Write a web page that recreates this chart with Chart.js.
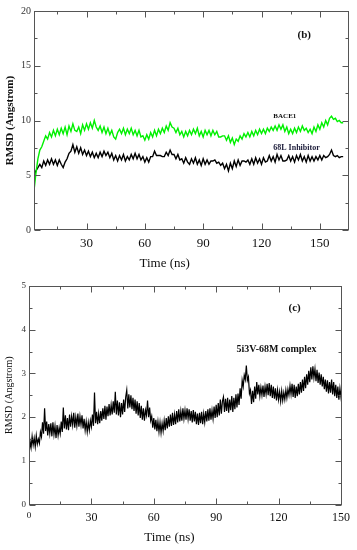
<!DOCTYPE html>
<html><head><meta charset="utf-8">
<script src="https://cdn.jsdelivr.net/npm/chart.js@4.4.1/dist/chart.umd.min.js"></script>
<style>
html,body{margin:0;padding:0;background:#fff;width:357px;height:550px;overflow:hidden}
.box{position:absolute;left:0;width:357px}
#wb{top:0;height:272px}
#wc{top:275px;height:275px}
</style></head><body>
<div class="box" id="wb"><canvas id="cb" width="357" height="272"></canvas></div>
<div class="box" id="wc"><canvas id="cc" width="357" height="275"></canvas></div>
<script>
// ---------- DATA ----------
const timeStartB = 3, timeStepB = 1;   // ns
const bace1 = [
 3.6,5.2,6.5,7.3,7.6,8.1,8.6,8.3,8.9,8.5,
 9.1,8.6,9.2,8.7,9.3,8.8,9.4,8.7,9.5,9.0,
 9.7,9.1,9.0,9.4,8.8,9.6,9.1,9.7,9.2,9.8,
 9.3,10.0,9.4,9.1,9.5,8.9,9.4,8.8,9.3,8.7,
 9.1,8.5,8.3,8.9,9.2,8.8,9.3,8.7,9.2,8.8,
 9.3,8.7,9.1,8.6,9.1,8.5,8.6,8.2,8.7,8.3,
 8.9,8.5,9.1,8.6,9.2,8.8,9.3,8.9,9.5,9.1,
 9.8,9.4,9.3,8.9,9.3,8.7,9.0,8.5,9.0,8.6,
 9.1,8.7,9.2,8.8,9.3,8.6,9.0,8.5,9.1,8.7,
 9.1,8.6,9.1,8.7,9.0,8.5,8.5,8.6,8.6,8.2,
 8.6,8.0,8.4,7.8,8.3,8.1,8.6,8.3,8.8,8.5,
 8.9,8.5,9.0,8.6,9.1,8.7,9.2,8.8,9.2,8.8,
 9.3,9.0,9.4,9.1,9.5,9.1,9.6,9.2,9.6,9.0,
 9.4,8.8,9.2,8.8,9.3,8.9,9.4,9.0,9.5,9.1,
 9.3,8.9,9.2,8.8,9.4,9.0,9.6,9.2,9.8,9.4,
 10.0,9.6,10.2,10.4,10.1,10.2,9.9,10.0,9.8,9.8
];
const inhibitor68L = [
 4.9,5.4,5.7,6.0,5.7,6.3,5.9,6.4,6.0,6.5,
 6.0,6.4,5.9,6.4,6.0,5.7,6.2,6.5,7.0,7.2,
 7.8,7.1,7.6,7.0,7.5,6.9,7.3,6.8,7.2,6.7,
 7.1,6.6,7.0,6.6,7.1,6.7,7.2,6.8,7.1,6.6,
 7.0,6.4,6.8,6.3,6.8,6.4,6.9,6.3,6.7,6.4,
 6.9,6.5,7.0,6.5,6.9,6.4,6.7,6.2,6.6,6.2,
 6.7,6.7,7.2,6.8,6.8,6.8,6.7,6.7,7.1,6.8,
 7.3,6.9,6.9,6.5,6.9,6.4,6.5,6.1,6.6,6.2,
 6.0,6.5,6.1,6.6,6.0,6.4,5.9,6.5,6.0,6.4,
 6.0,6.3,6.3,6.4,6.1,6.2,5.9,6.1,5.6,6.0,
 5.4,6.1,5.6,6.3,5.8,6.4,5.9,6.3,6.3,6.2,
 6.4,6.0,6.5,6.0,6.6,6.1,6.5,6.0,6.6,6.2,
 6.3,6.8,6.3,6.7,6.2,6.9,6.4,6.8,6.3,6.3,
 6.4,6.8,6.3,6.7,6.2,6.8,6.4,6.9,6.3,6.7,
 6.2,6.8,6.3,6.7,6.3,6.7,6.4,6.8,6.4,6.8,
 6.6,6.7,6.9,7.3,6.8,6.7,6.8,6.6,6.7,6.7
];
const timeStartC = 0, timeStepC = 0.5; // ns
const complex5i3V = [
 1.10,1.45,1.30,1.56,1.36,1.52,1.32,1.58,1.38,1.50,
 1.40,1.66,1.55,1.88,1.62,2.20,1.68,1.90,1.58,1.84,
 1.62,1.86,1.56,1.88,1.60,1.80,1.52,1.82,1.58,1.76,
 1.62,1.90,1.66,2.22,1.74,2.04,1.72,1.98,1.70,2.06,
 1.78,2.02,1.82,2.10,1.76,2.00,1.80,2.08,1.78,2.02,
 1.82,2.04,1.74,1.96,1.70,1.90,1.66,1.88,1.70,1.92,
 1.78,2.06,1.80,2.56,1.86,2.12,1.84,2.08,1.86,2.14,
 1.92,2.20,1.96,2.26,1.94,2.24,2.02,2.30,2.04,2.28,
 2.06,2.36,2.10,2.58,2.06,2.38,2.04,2.34,2.00,2.32,
 2.06,2.40,2.12,2.46,2.62,2.20,2.52,2.22,2.50,2.18,
 2.44,2.14,2.40,2.08,2.36,2.04,2.32,1.98,2.26,1.94,
 2.20,1.92,2.16,2.04,2.38,2.00,2.22,1.92,2.02,1.76,
 1.98,1.72,1.94,1.68,1.90,1.66,1.88,1.64,1.86,1.68,
 1.92,1.70,1.98,1.74,2.02,1.78,2.06,1.80,2.10,1.82,
 2.06,1.84,2.14,1.88,2.18,1.90,2.14,1.92,2.20,1.96,
 2.16,1.94,2.20,1.96,2.18,1.92,2.14,1.88,2.16,1.90,
 2.12,1.84,2.08,1.82,2.10,1.86,2.12,1.84,2.08,1.88,
 2.14,1.90,2.18,1.92,2.20,1.94,2.16,1.96,2.24,1.98,
 2.28,2.00,2.32,2.04,2.40,2.08,2.36,2.46,2.12,2.42,
 2.14,2.44,2.10,2.40,2.16,2.48,2.12,2.44,2.18,2.52,
 2.22,2.54,2.28,2.66,2.42,2.84,2.70,2.96,2.86,3.18,
 2.84,2.92,2.54,2.62,2.30,2.60,2.34,2.70,2.42,2.80,
 2.52,2.74,2.48,2.68,2.50,2.72,2.46,2.70,2.52,2.76,
 2.50,2.78,2.48,2.74,2.44,2.70,2.42,2.66,2.38,2.62,
 2.40,2.58,2.36,2.60,2.38,2.56,2.40,2.62,2.44,2.64,
 2.50,2.72,2.52,2.76,2.46,2.74,2.44,2.70,2.48,2.76,
 2.52,2.80,2.56,2.86,2.60,2.92,2.66,2.98,2.74,3.06,
 2.80,3.14,2.86,3.16,2.90,3.10,2.82,3.08,2.78,3.02,
 2.74,2.98,2.70,2.92,2.64,2.86,2.58,2.84,2.54,2.80,
 2.56,2.86,2.52,2.80,2.48,2.74,2.44,2.70,2.40,2.66,
 2.46,2.70,2.52
];
const xTicksB = [30, 60, 90, 120, 150];
const xMinorB = [15, 45, 75, 105, 135];
const yTicksB = [0, 5, 10, 15, 20];
const yMinorB = [2.5, 7.5, 12.5, 17.5];
const xTicksC = [0, 30, 60, 90, 120, 150];
const xMinorC = [15, 45, 75, 105, 135];
const yTicksC = [0, 1, 2, 3, 4, 5];
const yMinorC = [0.5, 1.5, 2.5, 3.5, 4.5];

// ---------- HELPERS ----------
const SERIF = '"Liberation Serif", "Times New Roman", serif';
function toPoints(vals, t0, dt) { return vals.map((v, i) => ({ x: t0 + i * dt, y: v })); }

function framePlugin(cfg) {
  return {
    id: 'frame',
    afterDraw(chart) {
      const { ctx, chartArea: a, scales: { x, y } } = chart;
      ctx.save();
      ctx.strokeStyle = '#555';
      ctx.lineWidth = 1;
      const L = Math.round(a.left) + 0.5, R = Math.round(a.right) - 0.5;
      const T = Math.round(a.top) + 0.5, B = Math.round(a.bottom) - 0.5;
      ctx.strokeRect(L, T, R - L, B - T);
      ctx.beginPath();
      const tickX = (vals, len) => vals.forEach(v => {
        const px = Math.round(x.getPixelForValue(v)) + 0.5;
        ctx.moveTo(px, B); ctx.lineTo(px, B - len);
        ctx.moveTo(px, T); ctx.lineTo(px, T + len);
      });
      const tickY = (vals, len) => vals.forEach(v => {
        const py = Math.round(y.getPixelForValue(v)) + 0.5;
        ctx.moveTo(L, py); ctx.lineTo(L + len, py);
        ctx.moveTo(R, py); ctx.lineTo(R - len, py);
      });
      tickX(cfg.xMajor, 6); tickX(cfg.xMinor, 3);
      tickY(cfg.yMajor, 6); tickY(cfg.yMinor, 3);
      ctx.stroke();
      ctx.textAlign = 'center';
      ctx.textBaseline = 'middle';
      cfg.labels.forEach(l => {
        ctx.font = l.font;
        ctx.fillStyle = l.color;
        ctx.fillText(l.text, x.getPixelForValue(l.x), y.getPixelForValue(l.y));
      });
      const xt = cfg.xTitle;
      ctx.font = xt.font; ctx.fillStyle = '#111';
      ctx.fillText(xt.text, x.getPixelForValue(xt.at), a.bottom + xt.dy);
      ctx.restore();
    }
  };
}

function makeChart(id, o) {
  return new Chart(document.getElementById(id), {
    type: 'line',
    data: { datasets: o.datasets },
    options: {
      responsive: false, animation: false,
      layout: { padding: o.padding },
      plugins: { legend: { display: false }, tooltip: { enabled: false } },
      elements: { point: { radius: 0 }, line: { borderWidth: o.lineWidth, tension: 0 } },
      scales: {
        x: {
          type: 'linear', min: o.xMin, max: o.xMax,
          grid: { display: false, drawTicks: false }, border: { display: false },
          afterBuildTicks: s => { s.ticks = o.xTicks.map(v => ({ value: v })); },
          afterFit: s => { s.height = o.xHeight; },
          ticks: { autoSkip: false, maxRotation: 0, padding: o.xPad, color: '#111', font: o.xFont }
        },
        y: {
          min: o.yMin, max: o.yMax,
          grid: { display: false, drawTicks: false }, border: { display: false },
          afterBuildTicks: s => { s.ticks = o.yTicks.map(v => ({ value: v })); },
          afterFit: s => { s.width = o.yWidth; },
          ticks: { padding: 3, color: '#333', font: o.yFont },
          title: { display: true, text: 'RMSD (Angstrom)', color: '#111', font: o.yTitleFont, padding: { top: o.yTitlePad, bottom: 0 } }
        }
      }
    },
    plugins: [framePlugin(o.frame)]
  });
}

// ---------- CHART (b) ----------
makeChart('cb', {
  datasets: [
    { label: 'BACE1', data: toPoints(bace1, timeStartB, timeStepB), borderColor: '#00f000' },
    { label: '68L Inhibitor', data: toPoints(inhibitor68L, timeStartB, timeStepB), borderColor: '#000000' }
  ],
  lineWidth: 1.4,
  padding: { top: 11, right: 8, left: 0, bottom: 0 },
  xMin: 3, xMax: 165, yMin: 0, yMax: 20,
  xTicks: xTicksB, yTicks: yTicksB,
  xHeight: 42, yWidth: 34, xPad: 6,
  xFont: { family: SERIF, size: 13 },
  yFont: { family: SERIF, size: 10 },
  yTitleFont: { family: SERIF, size: 11, weight: 'bold' }, yTitlePad: 4,
  frame: {
    xMajor: xTicksB, xMinor: xMinorB, yMajor: yTicksB, yMinor: yMinorB,
    labels: [
      { text: '(b)', x: 142, y: 17.8, font: 'bold 11px ' + SERIF, color: '#111' },
      { text: 'BACE1', x: 132, y: 10.4, font: 'bold 7px ' + SERIF, color: '#111' },
      { text: '68L Inhibitor', x: 138, y: 7.45, font: 'bold 8px ' + SERIF, color: '#1c1c3a' }
    ],
    xTitle: { text: 'Time (ns)', at: 70.2, dy: 34, font: '13px ' + SERIF }
  }
});

// ---------- CHART (c) ----------
makeChart('cc', {
  datasets: [
    { label: '5i3V-68M complex', data: toPoints(complex5i3V, timeStartC, timeStepC), borderColor: '#000000' }
  ],
  lineWidth: 1.2,
  padding: { top: 11, right: 15, left: 0, bottom: 0 },
  xMin: 0, xMax: 150.5, yMin: 0, yMax: 5,
  xTicks: xTicksC, yTicks: yTicksC,
  xHeight: 45.5, yWidth: 29, xPad: 6,
  xFont: c => (c.tick && c.tick.value === 0) ? { family: SERIF, size: 9 } : { family: SERIF, size: 12 },
  yFont: { family: SERIF, size: 9 },
  yTitleFont: { family: SERIF, size: 10 }, yTitlePad: 3,
  frame: {
    xMajor: xTicksC, xMinor: xMinorC, yMajor: yTicksC, yMinor: yMinorC,
    labels: [
      { text: '(c)', x: 127.7, y: 4.5, font: 'bold 11px ' + SERIF, color: '#111' },
      { text: '5i3V-68M complex', x: 119, y: 3.54, font: 'bold 10px ' + SERIF, color: '#111' }
    ],
    xTitle: { text: 'Time (ns)', at: 67.5, dy: 33, font: '13px ' + SERIF }
  }
});
</script>
</body></html>
